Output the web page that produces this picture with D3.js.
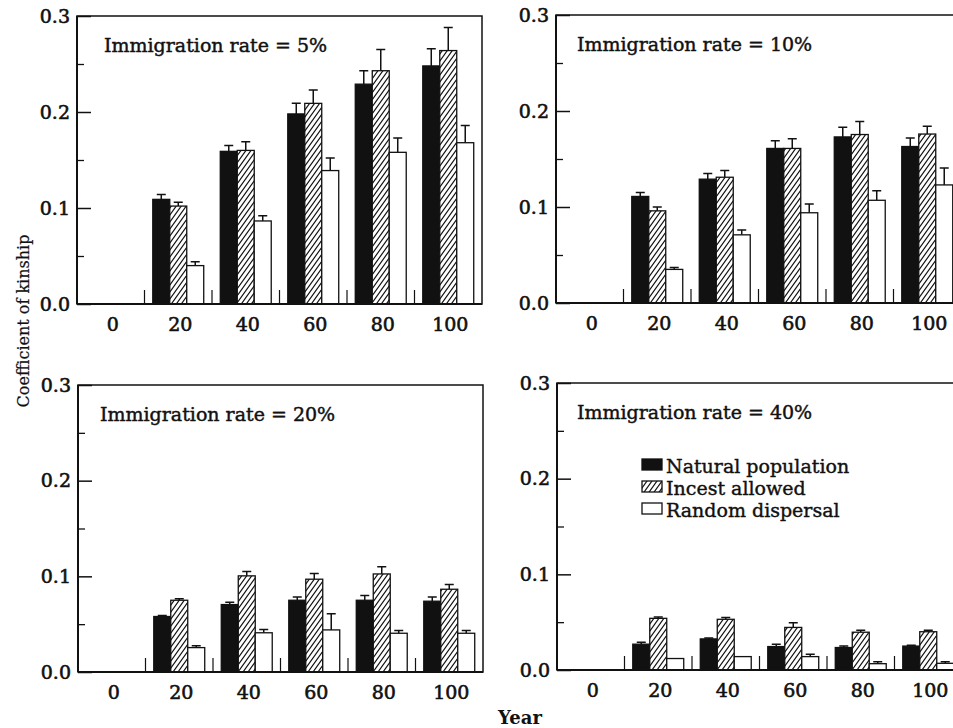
<!DOCTYPE html>
<html>
<head>
<meta charset="utf-8">
<script src="https://cdn.jsdelivr.net/npm/d3@7"></script>
<style>
  body { margin: 0; background: #fff; }
  text { font-family: 'DejaVu Serif', serif; fill: #111; }
</style>
</head>
<body>
<svg id="chart" width="953" height="728"></svg>
<script>
const years = [0, 20, 40, 60, 80, 100];
const barYears = [20, 40, 60, 80, 100];
const seriesKeys = ['natural', 'incest', 'random'];
const seriesNames = ['Natural population', 'Incest allowed', 'Random dispersal'];
const rateLabels = ['5%', '10%', '20%', '40%'];
const yTicks = [0, 0.1, 0.2, 0.3];
const yMinorTicks = [0.05, 0.15, 0.25];

// one row per immigration rate, values for years 20..100
const naturalMean = [
  [0.109, 0.159, 0.198, 0.229, 0.248],
  [0.111, 0.129, 0.161, 0.173, 0.163],
  [0.058, 0.0705, 0.075, 0.075, 0.074],
  [0.027, 0.0325, 0.0245, 0.0235, 0.025]
];
const naturalErr = [
  [0.005, 0.006, 0.011, 0.014, 0.018],
  [0.004, 0.006, 0.008, 0.010, 0.009],
  [0.001, 0.0025, 0.0035, 0.005, 0.0045],
  [0.002, 0.001, 0.0025, 0.0015, 0.001]
];
const incestMean = [
  [0.102, 0.160, 0.209, 0.243, 0.264],
  [0.096, 0.131, 0.161, 0.1755, 0.176],
  [0.075, 0.1005, 0.097, 0.1025, 0.0865],
  [0.054, 0.053, 0.0445, 0.0395, 0.040]
];
const incestErr = [
  [0.004, 0.009, 0.014, 0.022, 0.024],
  [0.004, 0.007, 0.010, 0.0135, 0.008],
  [0.0015, 0.0045, 0.006, 0.0075, 0.005],
  [0.0015, 0.002, 0.005, 0.002, 0.0015]
];
const randomMean = [
  [0.040, 0.0865, 0.139, 0.158, 0.168],
  [0.035, 0.071, 0.094, 0.107, 0.123],
  [0.0255, 0.041, 0.044, 0.0405, 0.0405],
  [0.012, 0.014, 0.014, 0.0066, 0.007]
];
const randomErr = [
  [0.004, 0.0055, 0.013, 0.015, 0.018],
  [0.002, 0.005, 0.009, 0.010, 0.0175],
  [0.002, 0.0033, 0.017, 0.003, 0.003],
  [0, 0, 0.0025, 0.002, 0.0015]
];

const means = { natural: naturalMean, incest: incestMean, random: randomMean };
const errs = { natural: naturalErr, incest: incestErr, random: randomErr };

const svg = d3.select('#chart');
const panelWidth = 405;
const panelBoxes = [
  { x: 77, y: 16, h: 288, tdx: 27 },
  { x: 556, y: 15, h: 288, tdx: 21 },
  { x: 78, y: 385, h: 287, tdx: 22 },
  { x: 557, y: 383, h: 287, tdx: 20 }
];

const defs = svg.append('defs');
const hatch = defs.append('pattern')
  .attr('id', 'hatch')
  .attr('patternUnits', 'userSpaceOnUse')
  .attr('width', 5)
  .attr('height', 7);
hatch.append('rect').attr('width', 5).attr('height', 7).attr('fill', '#fff');
hatch.append('path')
  .attr('d', 'M0,7 L5,0 M-1,1.4 L1,-1.4 M4,8.4 L6,5.6')
  .attr('stroke', '#111')
  .attr('stroke-width', 1.2);

const fills = { natural: '#111', incest: 'url(#hatch)', random: '#fff' };

const x = d3.scaleBand()
  .domain(years)
  .range([0, panelWidth])
  .paddingInner(0.245)
  .paddingOuter(0.1225);

const xs = d3.scaleBand()
  .domain(seriesKeys)
  .range([0, x.bandwidth()]);

rateLabels.forEach((rate, pi) => {
  const box = panelBoxes[pi];
  const h = box.h;
  const y = d3.scaleLinear().domain([0, 0.3]).range([h, 0]);

  const g = svg.append('g').attr('transform', `translate(${box.x},${box.y})`);

  // y axis, ticks pointing inward
  const yAxisG = g.append('g')
    .call(d3.axisLeft(y)
      .tickValues(yTicks)
      .tickSizeInner(-14)
      .tickSizeOuter(0)
      .tickPadding(7)
      .tickFormat(d3.format('.1f')));
  yAxisG.select('.domain').remove();
  yAxisG.selectAll('line').attr('stroke', '#111').attr('stroke-width', 1.5);
  yAxisG.selectAll('text')
    .style('font-family', "'DejaVu Serif', serif")
    .style('font-size', '19px')
    .attr('fill', '#111')
    .attr('stroke', '#111')
    .attr('stroke-width', 0.6);

  const yMinorG = g.append('g')
    .call(d3.axisLeft(y).tickValues(yMinorTicks).tickSize(-7).tickFormat(''));
  yMinorG.select('.domain').remove();
  yMinorG.selectAll('line').attr('stroke', '#111').attr('stroke-width', 1.3);

  // x axis labels
  const xAxisG = g.append('g')
    .attr('transform', `translate(0,${h})`)
    .call(d3.axisBottom(x).tickSize(0).tickPadding(14));
  xAxisG.select('.domain').remove();
  xAxisG.selectAll('text')
    .attr('x', 2)
    .style('font-family', "'DejaVu Serif', serif")
    .style('font-size', '19px')
    .attr('fill', '#111')
    .attr('stroke', '#111')
    .attr('stroke-width', 0.6);

  // small ticks between year groups
  g.selectAll('.sep')
    .data(years.slice(1))
    .enter()
    .append('line')
    .attr('class', 'sep')
    .attr('x1', (d) => x(d) - (x.step() * x.paddingInner()) / 2)
    .attr('x2', (d) => x(d) - (x.step() * x.paddingInner()) / 2)
    .attr('y1', h)
    .attr('y2', h - 14)
    .attr('stroke', '#111')
    .attr('stroke-width', 1.2);

  const rows = [];
  barYears.forEach((yr, yi) => {
    seriesKeys.forEach((k) => {
      rows.push({ year: yr, key: k, value: means[k][pi][yi], err: errs[k][pi][yi] });
    });
  });

  g.selectAll('.err')
    .data(rows.filter((d) => d.err > 0))
    .enter()
    .append('path')
    .attr('class', 'err')
    .attr('d', (d) => {
      const cx = x(d.year) + xs(d.key) + xs.bandwidth() / 2;
      const y0 = y(d.value);
      const y1 = y(d.value + d.err);
      return `M${cx},${y0} V${y1} M${cx - 4.5},${y1} H${cx + 4.5}`;
    })
    .attr('fill', 'none')
    .attr('stroke', '#111')
    .attr('stroke-width', 1.5);

  g.selectAll('.bar')
    .data(rows)
    .enter()
    .append('rect')
    .attr('class', 'bar')
    .attr('x', (d) => x(d.year) + xs(d.key))
    .attr('y', (d) => y(d.value))
    .attr('width', xs.bandwidth())
    .attr('height', (d) => h - y(d.value))
    .attr('fill', (d) => fills[d.key])
    .attr('stroke', '#111')
    .attr('stroke-width', 1.3);

  // frame
  g.append('rect')
    .attr('x', 0)
    .attr('y', 0)
    .attr('width', panelWidth)
    .attr('height', h)
    .attr('fill', 'none')
    .attr('stroke', '#111')
    .attr('stroke-width', 1.5);
  g.append('line')
    .attr('x1', 0).attr('x2', 0)
    .attr('y1', 0).attr('y2', h)
    .attr('stroke', '#111')
    .attr('stroke-width', 2);
  g.append('line')
    .attr('x1', 0).attr('x2', panelWidth)
    .attr('y1', h).attr('y2', h)
    .attr('stroke', '#111')
    .attr('stroke-width', 2);

  g.append('text')
    .attr('x', box.tdx)
    .attr('y', 36)
    .style('font-size', '19px')
    .attr('stroke', '#111')
    .attr('stroke-width', 0.45)
    .text(`Immigration rate = ${rate}`);
});

// legend inside the 40% panel
const legend = svg.append('g').attr('transform', 'translate(642,459)');
const legendItems = legend.selectAll('g')
  .data(seriesKeys)
  .enter()
  .append('g')
  .attr('transform', (d, i) => `translate(0,${i * 22})`);
legendItems.append('rect')
  .attr('width', 20)
  .attr('height', 11)
  .attr('fill', (d) => fills[d])
  .attr('stroke', '#111')
  .attr('stroke-width', 1.3);
legendItems.append('text')
  .attr('x', 24)
  .attr('y', 14)
  .style('font-size', '19px')
  .attr('stroke', '#111')
  .attr('stroke-width', 0.4)
  .text((d, i) => seriesNames[i]);

svg.append('text')
  .attr('transform', 'translate(29,321) rotate(-90)')
  .attr('text-anchor', 'middle')
  .style('font-size', '16px')
  .attr('stroke', '#111')
  .attr('stroke-width', 0.2)
  .text('Coefficient of kinship');

svg.append('text')
  .attr('x', 520)
  .attr('y', 724)
  .attr('text-anchor', 'middle')
  .style('font-size', '18px')
  .style('font-weight', 'bold')
  .text('Year');
</script>
</body>
</html>
